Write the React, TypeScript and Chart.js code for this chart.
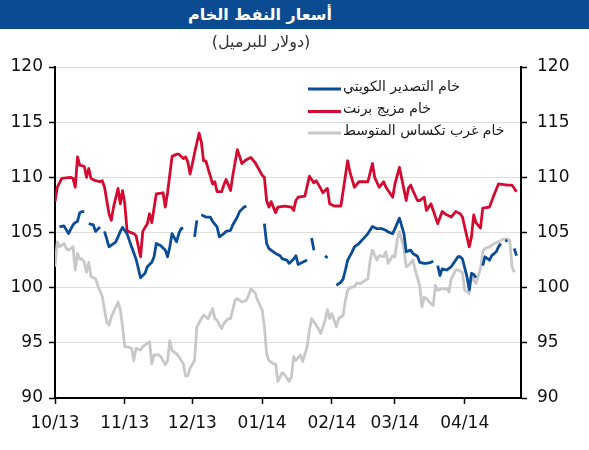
import React, { useEffect, useRef } from "react";
import { Chart, registerables } from "chart.js";

Chart.register(...registerables);

// Horizontal positions are calendar days counted from 1 Oct 2013.
const monthStartDays = [0, 31, 61, 92, 123, 151, 182];
const monthLabels = ["10/13", "11/13", "12/13", "01/14", "02/14", "03/14", "04/14"];
const lastDay = 207;

const priceTicks = [90, 95, 100, 105, 110, 115, 120];

const chartTitle = "أسعار النفط الخام";
const chartSubtitle = "(دولار للبرميل)";
const seriesNames = ["خام التصدير الكويتي", "خام مزيج برنت", "خام غرب تكساس المتوسط"];

// Kuwait export crude; null marks days without a quote (line breaks there).
const kuwaitDays = [
  2, 4, 6, 8, 9, 10, 11, 12, 13, 14,
  15, 17, 18, 19, 20, 21,
  22, 24, 26, 27, 28, 29, 30, 32, 34, 36, 38, 40, 41, 43, 44, 45, 47, 49, 50, 51, 52, 54, 55, 56, 57, 59,
  62, 63, 64,
  65, 67, 69, 70, 72, 73, 75, 76, 78, 79, 81, 82, 84, 85, 86,
  93, 94, 95, 97, 98, 100, 101, 103, 104, 106, 107, 108, 110, 112, 113,
  114, 115, 116,
  120, 121, 122,
  125, 127, 128, 129, 130, 132, 133, 134, 135, 137, 139, 141, 143, 145, 147, 148, 150, 151, 153, 155, 156, 158, 159, 161, 162, 164, 165, 167, 168, 169,
  170, 171, 172, 174, 176, 177, 179, 180, 181, 183, 184, 185, 186, 187, 188,
  190, 191, 193, 194, 196, 197, 198, 199,
  200, 201, 202,
  204, 205,
];
const kuwaitPrices = [
  105.5, 105.6, 104.9, 105.7, 105.9, 106.0, 106.8, 106.9, 106.9, null,
  105.8, 105.7, 105.1, 105.3, 105.5, null,
  105.1, 103.7, 104.0, 104.15, 104.6, 105.1, 105.45, 104.9, 103.7, 102.6, 100.9, 101.3, 101.9, 102.3, 102.8, 104.0, 103.8, 103.4, 102.8, 103.7, 104.9, 104.15, 104.9, 105.35, 105.4, null,
  104.6, 106.1, null,
  106.6, 106.4, 106.4, 106.0, 105.5, 104.6, 104.9, 105.1, 105.2, 105.7, 106.4, 106.9, 107.3, 107.4, null,
  105.8, 104.0, 103.55, 103.25, 103.1, 102.9, 102.6, 102.5, 102.2, 102.6, 102.9, 102.1, 102.3, 102.5, null,
  104.5, 103.4, null,
  102.9, 102.7, null,
  100.2, 100.5, 100.8, 101.6, 102.5, 103.25, 103.7, 103.85, 104.0, 104.45, 104.9, 105.55, 105.35, 105.35, 105.2, 105.05, 104.9, 105.35, 106.3, 104.9, 103.25, 103.4, 103.1, 102.85, 102.3, 102.2, 102.2, 102.3, 102.4, null,
  102.0, 101.1, 101.7, 101.6, 101.9, 102.2, 102.8, 102.8, 102.6, 101.0, 99.8, 101.3, 101.2, 100.9, null,
  102.0, 102.8, 102.5, 102.9, 103.25, 103.7, 104.0, null,
  104.2, 104.3, null,
  103.55, 102.9,
];

// Brent blend
const brentDays = [
  0, 1, 3, 7, 8, 9, 10, 11, 13, 14, 15, 16, 18, 20, 21, 22, 24, 25, 26, 28,
  29, 30, 31, 32, 33, 35, 36, 38, 39, 41, 42, 43, 45, 48, 49, 50, 52, 54, 55, 57,
  58, 59, 60, 61, 62, 64, 65, 66, 67, 70, 71, 72, 74, 75, 76, 78, 79, 81, 82, 83,
  85, 87, 89, 92, 93, 94, 95, 96, 98, 99, 102, 105, 106, 107, 108, 111, 113, 115, 116, 118,
  119, 121, 122, 124, 127, 130, 131, 133, 135, 136, 139, 141, 142, 144, 146, 147, 150, 151, 153, 156,
  157, 158, 159, 161, 162, 164, 165, 167, 170, 172, 174, 176, 178, 180, 181, 183, 184, 185, 186, 187,
  189, 190, 193, 195, 197, 201, 203, 205,
];
const brentPrices = [
  107.8, 109.1, 109.9, 110.0, 109.9, 109.1, 111.85, 111.1, 111.0, 110.0, 110.8, 109.9, 109.7, 109.6, 109.7, 109.1, 106.7, 106.1, 107.3, 109.0,
  107.6, 108.8, 107.6, 105.2, 105.05, 104.9, 104.7, 102.8, 105.1, 105.8, 106.7, 105.9, 108.5, 108.6, 107.3, 108.6, 111.9, 112.1, 112.1, 111.7,
  111.85, 111.4, 110.3, 111.2, 112.2, 114.0, 113.2, 111.5, 111.5, 109.4, 109.6, 108.7, 108.7, 109.3, 109.8, 108.8, 110.2, 112.5, 111.9, 111.25,
  111.6, 111.8, 111.3, 110.2, 110.0, 107.9, 107.3, 107.8, 106.8, 107.3, 107.4, 107.3, 107.0, 107.9, 108.2, 108.3, 110.1, 109.5, 109.7, 109.0,
  108.6, 109.0, 107.6, 107.4, 107.4, 111.5, 110.5, 109.1, 109.6, 109.6, 109.6, 111.25, 110.0, 109.1, 109.6, 109.1, 108.2, 109.4, 110.9, 107.9,
  109.0, 109.3, 108.8, 107.9, 107.9, 108.2, 107.0, 107.6, 105.8, 106.9, 106.6, 106.4, 106.9, 106.7, 106.4, 104.6, 103.7, 104.6, 106.6, 105.9,
  105.4, 107.2, 107.3, 108.4, 109.4, 109.3, 109.3, 108.7,
];

// West Texas Intermediate
const wtiDays = [
  0, 1, 2, 4, 5, 6, 8, 9, 10, 11, 12, 13, 14, 15, 16, 18, 19, 21, 22, 23,
  24, 25, 27, 28, 29, 30, 31, 32, 34, 35, 36, 38, 39, 41, 42, 43, 44, 46, 47, 49,
  50, 51, 52, 54, 55, 57, 58, 59, 60, 62, 63, 65, 66, 68, 70, 71, 72, 74, 75, 77,
  78, 80, 81, 83, 85, 86, 87, 89, 90, 92, 93, 94, 95, 97, 98, 99, 101, 102, 104, 105,
  106, 107, 109, 110, 112, 113, 114, 116, 117, 118, 120, 121, 122, 123, 125, 126, 128, 129, 130, 131,
  133, 134, 136, 138, 139, 140, 141, 143, 144, 146, 147, 148, 150, 151, 152, 153, 155, 156, 157, 159,
  160, 162, 163, 164, 165, 167, 168, 169, 170, 172, 174, 175, 176, 178, 179, 181, 182, 184, 185, 187,
  189, 190, 191, 193, 195, 197, 199, 201, 202, 203, 204,
];
const wtiPrices = [
  101.9, 104.15, 103.7, 104.0, 103.55, 103.4, 103.7, 101.6, 103.1, 102.6, 102.6, 102.3, 101.4, 102.3, 101.0, 100.8, 100.2, 99.2, 98.0, 96.9,
  96.6, 97.35, 98.25, 98.7, 98.0, 96.5, 94.65, 94.65, 94.5, 93.4, 94.5, 94.35, 94.65, 94.95, 95.1, 93.1, 93.9, 93.9, 93.75, 93.0,
  93.4, 95.2, 94.3, 94.0, 93.75, 93.1, 92.0, 92.0, 92.7, 93.4, 96.45, 97.2, 97.5, 97.2, 98.1, 97.2, 97.05, 96.3, 96.75, 97.2,
  97.2, 98.85, 99.0, 98.7, 98.85, 99.3, 99.9, 99.5, 98.85, 98.0, 96.5, 94.0, 93.4, 93.1, 93.1, 91.5, 92.3, 92.1, 91.5, 91.9,
  93.75, 93.4, 93.9, 93.3, 94.65, 96.15, 97.2, 96.6, 96.3, 95.85, 97.05, 98.0, 97.2, 97.65, 96.45, 97.2, 97.5, 98.85, 99.75, 100.0,
  100.1, 100.4, 100.4, 100.7, 100.8, 102.5, 103.4, 102.5, 102.9, 102.8, 103.25, 102.2, 102.9, 102.8, 104.3, 105.1, 103.55, 101.9, 102.0, 102.5,
  101.6, 100.2, 98.25, 99.15, 99.0, 98.55, 98.4, 100.2, 99.75, 99.9, 99.9, 99.6, 100.8, 101.6, 101.6, 101.4, 99.75, 99.5, 101.0, 100.4,
  101.7, 103.25, 103.55, 103.7, 104.0, 104.15, 104.4, 104.4, 104.3, 101.9, 101.4,
];

const KUWAIT_BLUE = "#0b4c97";
const BRENT_RED = "#d50a30";
const WTI_GREY = "#c8c8c8";
const TITLE_BLUE = "#0a4b92";
const TICK_FONT = { family: "DejaVu Sans", size: 17 };

const toPoints = (days: number[], prices: (number | null)[]) =>
  days.map((d, i) => ({ x: d, y: prices[i] }));

// Draws the series key inside the upper-right part of the plot.
const insideLegend = {
  id: "insideLegend",
  afterDatasetsDraw(chart: any) {
    const { ctx, chartArea } = chart;
    const rowOffsets = [22, 44.5, 66];
    ctx.save();
    ctx.font = '14px "DejaVu Sans"';
    ctx.textBaseline = "middle";
    ctx.textAlign = "left";
    ctx.direction = "rtl";
    chart.data.datasets.forEach((ds: any, i: number) => {
      const y = chartArea.top + rowOffsets[i];
      const x0 = chartArea.left + 253;
      ctx.strokeStyle = ds.borderColor;
      ctx.lineWidth = 3;
      ctx.beginPath();
      ctx.moveTo(x0, y);
      ctx.lineTo(x0 + 33, y);
      ctx.stroke();
      ctx.fillStyle = "#1a1a1a";
      ctx.fillText(ds.label, x0 + 35, y - 2);
    });
    ctx.restore();
  },
};

export default function App() {
  const canvasRef = useRef<HTMLCanvasElement | null>(null);

  useEffect(() => {
    if (!canvasRef.current) return;
    const yScale = (position: "left" | "right", isMain: boolean) => ({
      type: "linear" as const,
      position,
      min: 90,
      max: 120,
      afterBuildTicks: (scale: any) => {
        scale.ticks = priceTicks.map((v) => ({ value: v }));
      },
      afterFit: (scale: any) => {
        scale.width = position === "left" ? 55 : 68;
      },
      border: { display: true, color: "#000", width: 2 },
      grid: {
        display: true,
        drawOnChartArea: isMain,
        color: "#dedede",
        lineWidth: 1,
        tickColor: "#000",
        tickWidth: 1.5,
        tickLength: 6,
      },
      ticks: {
        color: "#111",
        font: TICK_FONT,
        padding: position === "left" ? 6 : 10,
      },
    });

    const chart = new Chart(canvasRef.current, {
      type: "line",
      data: {
        datasets: [
          {
            label: seriesNames[0],
            data: toPoints(kuwaitDays, kuwaitPrices),
            borderColor: KUWAIT_BLUE,
            borderWidth: 2.8,
            spanGaps: false,
          },
          {
            label: seriesNames[1],
            data: toPoints(brentDays, brentPrices),
            borderColor: BRENT_RED,
            borderWidth: 2.8,
          },
          {
            label: seriesNames[2],
            data: toPoints(wtiDays, wtiPrices),
            borderColor: WTI_GREY,
            borderWidth: 2.8,
          },
        ],
      },
      options: {
        responsive: false,
        animation: false,
        parsing: false as any,
        normalized: true,
        layout: { padding: { top: 67, left: 0, right: 0, bottom: 0 } },
        elements: {
          point: { radius: 0, hoverRadius: 0 },
          line: { tension: 0, borderCapStyle: "butt", borderJoinStyle: "round" },
        },
        plugins: {
          legend: { display: false },
          tooltip: { enabled: false },
          title: { display: false },
        },
        scales: {
          x: {
            type: "linear",
            min: 0,
            max: lastDay,
            afterBuildTicks: (scale: any) => {
              scale.ticks = monthStartDays.map((d) => ({ value: d }));
            },
            afterFit: (scale: any) => {
              scale.height = 52;
            },
            border: { display: true, color: "#000", width: 2 },
            grid: {
              display: true,
              drawOnChartArea: false,
              tickColor: "#000",
              tickWidth: 1.5,
              tickLength: 6,
            },
            ticks: {
              color: "#111",
              font: TICK_FONT,
              padding: 9,
              maxRotation: 0,
              autoSkip: false,
              callback: (v: any) => {
                const idx = monthStartDays.indexOf(Number(v));
                return idx >= 0 ? monthLabels[idx] : "";
              },
            },
          },
          y: yScale("left", true),
          y2: yScale("right", false),
        },
      },
      plugins: [insideLegend],
    });
    return () => chart.destroy();
  }, []);

  return (
    <div
      style={{
        position: "absolute",
        left: 0,
        top: 0,
        width: 589,
        height: 450,
        background: "#fff",
        overflow: "hidden",
      }}
    >
      <canvas
        ref={canvasRef}
        width={589}
        height={450}
        style={{ position: "absolute", left: 0, top: 0, width: 589, height: 450 }}
      />
      <div
        style={{
          position: "absolute",
          left: 0,
          top: 0,
          width: 589,
          height: 29,
          background: TITLE_BLUE,
        }}
      >
        <div
          dir="rtl"
          style={{
            width: 520,
            textAlign: "center",
            color: "#fff",
            fontFamily: '"DejaVu Sans", sans-serif',
            fontWeight: "bold",
            fontSize: 16,
            lineHeight: "29px",
          }}
        >
          {chartTitle}
        </div>
      </div>
      <div
        dir="rtl"
        style={{
          position: "absolute",
          left: 0,
          top: 31,
          width: 522,
          textAlign: "center",
          color: "#333",
          fontFamily: '"DejaVu Sans", sans-serif',
          fontSize: 16,
          lineHeight: "22px",
        }}
      >
        {chartSubtitle}
      </div>
    </div>
  );
}
